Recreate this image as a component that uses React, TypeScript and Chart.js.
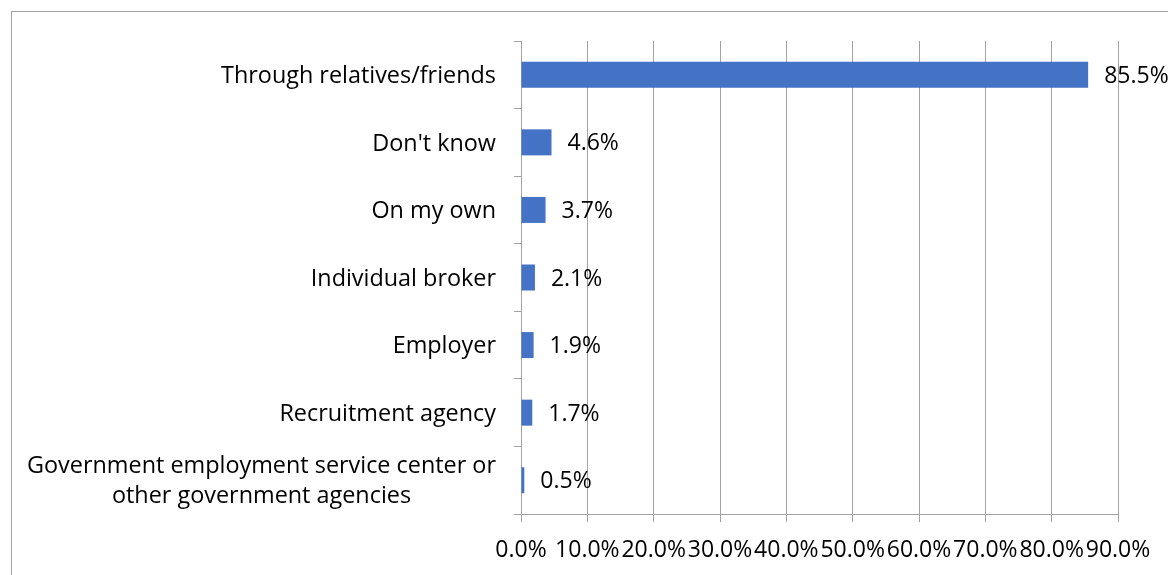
import React, { useEffect, useRef } from "react";
import { Chart, registerables } from "chart.js";

Chart.register(...registerables);

const categories: string[][] = [
  ["Through relatives/friends"],
  ["Don't know"],
  ["On my own"],
  ["Individual broker"],
  ["Employer"],
  ["Recruitment agency"],
  ["Government employment service center or", "other government agencies"],
];
const values: number[] = [85.5, 4.6, 3.7, 2.1, 1.9, 1.7, 0.5];
const xTickValues: number[] = [0, 10, 20, 30, 40, 50, 60, 70, 80, 90];

const FONT = "'Open Sans', sans-serif";
const FONT_SIZE = 23;
const CAT_FONT_SIZE = 23.4;
const TEXT_COLOR = "#000000";
const GRID_COLOR = "#a3a3a3";
const BAR_COLOR = "#4472C4";

const W = 1168;
const H = 575;

export default function App() {
  const ref = useRef<HTMLCanvasElement | null>(null);

  useEffect(() => {
    const canvas = ref.current;
    if (!canvas) return;

    const labelPlugin = {
      id: "customLabels",
      afterDatasetsDraw(chart: any) {
        const ctx = chart.ctx;
        const meta = chart.getDatasetMeta(0);
        ctx.save();
        ctx.font = `${FONT_SIZE}px ${FONT}`;
        ctx.fillStyle = TEXT_COLOR;
        ctx.textAlign = "left";
        ctx.textBaseline = "middle";
        meta.data.forEach((bar: any, i: number) => {
          ctx.fillText(values[i].toFixed(1) + "%", bar.x + 16, bar.y + 1.5);
        });
        ctx.restore();
      },
      afterDraw(chart: any) {
        const ctx = chart.ctx;
        const yScale = chart.scales.y;
        const rightEdge = chart.chartArea.left - 25;
        const lineH = 30;
        ctx.save();
        ctx.font = `${CAT_FONT_SIZE}px ${FONT}`;
        ctx.fillStyle = TEXT_COLOR;
        ctx.textAlign = "center";
        ctx.textBaseline = "middle";
        categories.forEach((lines, i) => {
          const yc = yScale.getPixelForTick(i) + 1.5;
          const bw = Math.max(...lines.map((l) => ctx.measureText(l).width));
          const cx = rightEdge - bw / 2;
          const y0 = yc - ((lines.length - 1) * lineH) / 2;
          lines.forEach((l, j) => ctx.fillText(l, cx, y0 + j * lineH));
        });
        ctx.restore();
      },
    };

    const chart = new Chart(canvas, {
      type: "bar",
      data: {
        labels: categories.map((c) => c.join(" ")),
        datasets: [
          {
            data: values,
            backgroundColor: BAR_COLOR,
            borderWidth: 0,
            categoryPercentage: 1,
            barPercentage: 0.385,
          },
        ],
      },
      options: {
        indexAxis: "y",
        responsive: false,
        animation: false,
        devicePixelRatio: 1,
        layout: { padding: { left: 0, right: 50, top: 41, bottom: 0 } },
        plugins: {
          legend: { display: false },
          tooltip: { enabled: false },
          title: { display: false },
        },
        scales: {
          x: {
            min: 0,
            max: 90,
            afterBuildTicks(scale: any) {
              scale.ticks = xTickValues.map((v) => ({ value: v }));
            },
            afterFit(scale: any) {
              scale.height = H - 514;
            },
            grid: {
              color: GRID_COLOR,
              lineWidth: 1,
              drawTicks: true,
              tickLength: 8,
              tickColor: GRID_COLOR,
            },
            border: { display: true, color: GRID_COLOR, width: 1 },
            ticks: {
              autoSkip: false,
              maxRotation: 0,
              minRotation: 0,
              padding: 15,
              color: TEXT_COLOR,
              font: { family: FONT, size: FONT_SIZE },
              callback: (v: any) => Number(v).toFixed(1) + "%",
            },
          },
          y: {
            afterFit(scale: any) {
              scale.width = 521;
            },
            grid: {
              drawOnChartArea: false,
              drawTicks: true,
              tickLength: 7,
              tickColor: GRID_COLOR,
              offset: true,
              color: GRID_COLOR,
            },
            border: { display: true, color: GRID_COLOR, width: 1 },
            ticks: {
              color: "rgba(0,0,0,0)",
              font: { family: FONT, size: FONT_SIZE },
              autoSkip: false,
            },
          },
        },
      },
      plugins: [labelPlugin],
    });

    return () => chart.destroy();
  }, []);

  return (
    <div
      style={{
        position: "fixed",
        left: 0,
        top: 0,
        width: W,
        height: H,
        background: "#ffffff",
        overflow: "hidden",
      }}
    >
      <canvas
        ref={ref}
        width={W}
        height={H}
        style={{ position: "absolute", left: 0, top: 0, width: W, height: H }}
      />
      <div
        style={{
          position: "absolute",
          left: 11,
          top: 11,
          width: W,
          height: H,
          borderTop: `1px solid ${GRID_COLOR}`,
          borderLeft: `1px solid ${GRID_COLOR}`,
          pointerEvents: "none",
        }}
      />
    </div>
  );
}
